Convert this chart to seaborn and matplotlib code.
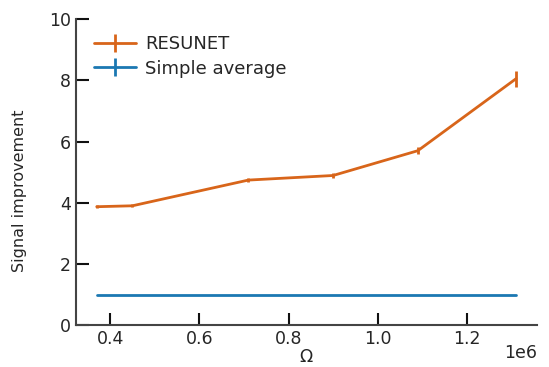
import matplotlib
matplotlib.use("Agg")
import matplotlib.pyplot as plt
import seaborn as sns

# data
omega = [0.37e6, 0.45e6, 0.71e6, 0.90e6, 1.09e6, 1.31e6]
resunet = [3.87, 3.90, 4.74, 4.89, 5.70, 8.05]
resunet_err = [0.05, 0.05, 0.07, 0.09, 0.12, 0.27]
simple_avg = [1.0, 1.0, 1.0, 1.0, 1.0, 1.0]
simple_err = [0.0, 0.0, 0.0, 0.0, 0.0, 0.0]

sns.set_theme(style="ticks")
plt.rcParams['font.family'] = ['DejaVu Sans']

fig = plt.figure(figsize=(5.49, 3.67), dpi=100)
ax = fig.add_axes([0.138, 0.114, 0.84, 0.834])

ax.errorbar(omega, resunet, yerr=resunet_err, color='#d8651a', lw=2, elinewidth=2, label='RESUNET')
ax.errorbar(omega, simple_avg, yerr=simple_err, color='#1b78b2', lw=2, elinewidth=2, label='Simple average')

ax.set_ylim(0, 10)
ax.set_yticks([0, 2, 4, 6, 8, 10])
ax.set_xticks([0.4e6, 0.6e6, 0.8e6, 1.0e6, 1.2e6])
ax.set_xlabel('Ω', fontsize=12.5, labelpad=0)
ax.set_ylabel('Signal improvement', fontsize=11.5)
ax.yaxis.set_label_coords(-0.105, 0.44)
ax.tick_params(direction='in', length=9, width=1.5, labelsize=12.5, color='#111111')
# scale marker drawn by hand so it sits like in the reference
ax.xaxis.get_offset_text().set_visible(False)
ax.text(1.0, -0.09, '1e6', transform=ax.transAxes, ha='right', va='center', fontsize=12.5)
for s in ['left', 'bottom']:
    ax.spines[s].set_linewidth(1.5)
    ax.spines[s].set_color('#444444')
sns.despine(ax=ax)

ax.legend(loc='upper left', frameon=False, fontsize=13, bbox_to_anchor=(0.005, 1.0),
          handlelength=2.3, handletextpad=0.5, labelspacing=0.35)

fig.savefig('out.png', dpi=100)
